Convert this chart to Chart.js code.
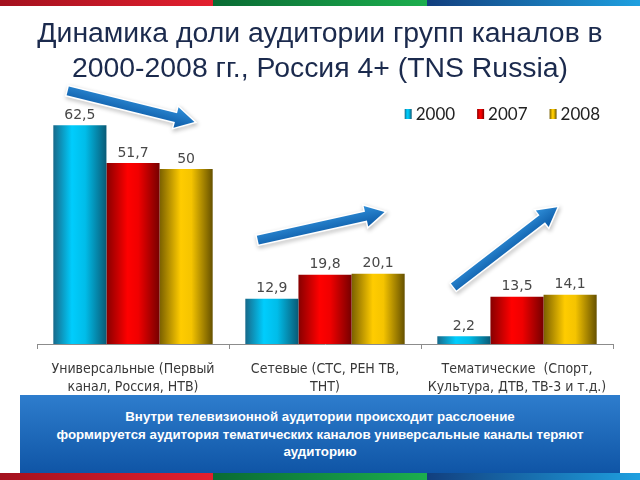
<!DOCTYPE html>
<html><head><meta charset="utf-8">
<script src="https://cdn.jsdelivr.net/npm/chart.js@4.4.1/dist/chart.umd.min.js"></script>
<style>
html,body{margin:0;padding:0;width:640px;height:480px;overflow:hidden;background:#fff;font-family:"Liberation Sans",Arial,sans-serif;}
.stripe{position:absolute;left:0;width:640px;height:6px;display:flex}
.stripe div{flex:1}
.r{background:linear-gradient(90deg,#a3111e,#e3202f)}
.g{background:linear-gradient(90deg,#0a6b34,#1cae4e)}
.b{background:linear-gradient(90deg,#123f7e,#1ea0e0)}
#title{position:absolute;left:0;top:15px;width:640px;text-align:center;font-size:28.4px;line-height:35px;color:#1b2a4d;}
#wrap{position:absolute;left:0;top:0;width:640px;height:400px}
#box{position:absolute;left:20px;top:395px;width:600px;height:78px;background:linear-gradient(180deg,#2e7dcd,#0f55a6);color:#fff;font-weight:bold;font-size:13.3px;line-height:17.5px;text-align:center;box-sizing:border-box;padding-top:13px}
</style></head>
<body>
<div id="wrap"><canvas id="c" width="640" height="400"></canvas></div>
<div class="stripe" style="top:0"><div class="r"></div><div class="g"></div><div class="b"></div></div>
<div id="title">Динамика доли аудитории групп каналов в<br>2000-2008 гг., Россия 4+ (TNS Russia)</div>
<div id="box">Внутри телевизионной аудитории происходит расслоение<br>формируется аудитория тематических каналов универсальные каналы теряют<br>аудиторию</div>
<div class="stripe" style="top:473px;height:7px"><div class="r"></div><div class="g"></div><div class="b"></div></div>
<script>
const categories = [
  ["Универсальные (Первый", "канал, Россия, НТВ)"],
  ["Сетевые (СТС, РЕН ТВ,", "ТНТ)"],
  ["Тематические  (Спорт,", "Культура, ДТВ, ТВ-3 и т.д.)"]
];
const seriesNames = ["2000", "2007", "2008"];
const values2000 = [62.5, 12.9, 2.2];
const values2007 = [51.7, 19.8, 13.5];
const values2008 = [50, 20.1, 14.1];

const stops = [
  [[0,'#17698a'],[0.35,'#00cdfd'],[0.6,'#00bde9'],[1,'#0a5a76']],
  [[0,'#870000'],[0.4,'#ff0000'],[0.6,'#f00000'],[1,'#760000']],
  [[0,'#7a6000'],[0.4,'#ffcc00'],[0.6,'#f5c400'],[1,'#665100']]
];
// trend arrows, anchored to category index; x as fraction of category width from its centre, y as axis value
const arrows = [
  {cat:0, fx0:-0.34, v0:72.3, fx1:0.32, v1:63.4},
  {cat:1, fx0:-0.35, v0:29.7, fx1:0.31, v1:37.7},
  {cat:2, fx0:-0.33, v0:16.3, fx1:0.21, v1:39.1}
];

const gradPlugin = {
  id:'grad',
  beforeDatasetsDraw(chart){
    const ctx = chart.ctx;
    chart.data.datasets.forEach((ds,i)=>{
      chart.getDatasetMeta(i).data.forEach(el=>{
        const g = ctx.createLinearGradient(el.x - el.width/2,0,el.x + el.width/2,0);
        stops[i].forEach(([o,c])=>g.addColorStop(o,c));
        el.options = Object.assign({}, el.options, {backgroundColor:g});
      });
    });
  }
};

const labelPlugin = {
  id:'vals',
  afterDatasetsDraw(chart){
    const ctx = chart.ctx;
    ctx.save();
    ctx.font = '14px "DejaVu Sans"';
    ctx.fillStyle = '#484848';
    ctx.textAlign = 'center';
    ctx.textBaseline = 'middle';
    chart.data.datasets.forEach((ds,i)=>{
      chart.getDatasetMeta(i).data.forEach((el,j)=>{
        ctx.fillText(String(ds.data[j]).replace('.',','), el.x, el.y - 10);
      });
    });
    ctx.restore();
  }
};

function drawArrow(ctx,x0,y0,x1,y1){
  const ang = Math.atan2(y1-y0,x1-x0), len = Math.hypot(x1-x0,y1-y0);
  const sw = 4.5, hw = 10.5, hl = 19;
  ctx.save();
  ctx.translate(x0,y0); ctx.rotate(ang);
  ctx.beginPath();
  ctx.moveTo(0,-sw); ctx.lineTo(len-hl,-sw); ctx.lineTo(len-hl,-hw); ctx.lineTo(len,0);
  ctx.lineTo(len-hl,hw); ctx.lineTo(len-hl,sw); ctx.lineTo(0,sw); ctx.closePath();
  ctx.shadowColor = 'rgba(0,0,0,0.3)'; ctx.shadowBlur = 4; ctx.shadowOffsetX = 1; ctx.shadowOffsetY = 2;
  ctx.lineWidth = 3; ctx.strokeStyle = '#ffffff'; ctx.lineJoin = 'miter';
  ctx.stroke();
  ctx.shadowColor = 'transparent';
  const g = ctx.createLinearGradient(0,-hw,0,hw);
  g.addColorStop(0,'#2f8ed8'); g.addColorStop(1,'#0c5aa6');
  ctx.fillStyle = g;
  ctx.fill();
  ctx.restore();
}

const arrowPlugin = {
  id:'arrows',
  afterDraw(chart){
    const xs = chart.scales.x, ys = chart.scales.y;
    const cw = (xs.right - xs.left) / chart.data.labels.length;
    arrows.forEach(a=>{
      const cx = xs.getPixelForValue(a.cat);
      drawArrow(chart.ctx, cx + a.fx0*cw, ys.getPixelForValue(a.v0), cx + a.fx1*cw, ys.getPixelForValue(a.v1));
    });
  }
};

const legendPlugin = {
  id:'customLegend',
  afterDraw(chart){
    const ctx = chart.ctx;
    ctx.save();
    ctx.font = '17px Lato';
    ctx.textBaseline = 'middle';
    const y = 114, bw = 7, bh = 10, gap = 4, pad = 22;
    let x = chart.chartArea.right - 13;
    const items = chart.data.datasets.map((d,i)=>({t:d.label,i}));
    for (let k = items.length-1; k >= 0; k--) {
      const it = items[k];
      const tw = ctx.measureText(it.t).width;
      const tx = x - tw;
      const bx = tx - gap - bw;
      const g = ctx.createLinearGradient(bx,0,bx+bw,0);
      stops[it.i].forEach(([o,c])=>g.addColorStop(o,c));
      ctx.fillStyle = g;
      ctx.fillRect(bx, y - bh/2, bw, bh);
      ctx.fillStyle = '#222';
      ctx.fillText(it.t, tx, y + 1);
      x = bx - pad;
    }
    ctx.restore();
  }
};

new Chart(document.getElementById('c'), {
  type:'bar',
  data:{
    labels: categories,
    datasets:[
      {label:seriesNames[0], data:values2000, backgroundColor:'#00c4f2'},
      {label:seriesNames[1], data:values2007, backgroundColor:'#ff0000'},
      {label:seriesNames[2], data:values2008, backgroundColor:'#ffcc00'}
    ]
  },
  options:{
    responsive:false,
    animation:false,
    layout:{padding:{left:37,right:27,top:99,bottom:0}},
    datasets:{bar:{categoryPercentage:0.83,barPercentage:1.0,borderWidth:0}},
    plugins:{legend:{display:false},tooltip:{enabled:false},title:{display:false}},
    scales:{
      x:{
        grid:{offset:true,drawOnChartArea:false,drawTicks:true,tickLength:5,color:'#8c8c8c'},
        border:{display:true,color:'#8c8c8c'},
        ticks:{font:{family:'"DejaVu Sans Condensed","DejaVu Sans"',size:14,lineHeight:1.29},color:'#383838',padding:11,maxRotation:0,autoSkip:false},
        afterFit:(s)=>{s.height=56;}
      },
      y:{display:false,min:0,max:70}
    }
  },
  plugins:[gradPlugin,labelPlugin,arrowPlugin,legendPlugin]
});
</script>
</body></html>
